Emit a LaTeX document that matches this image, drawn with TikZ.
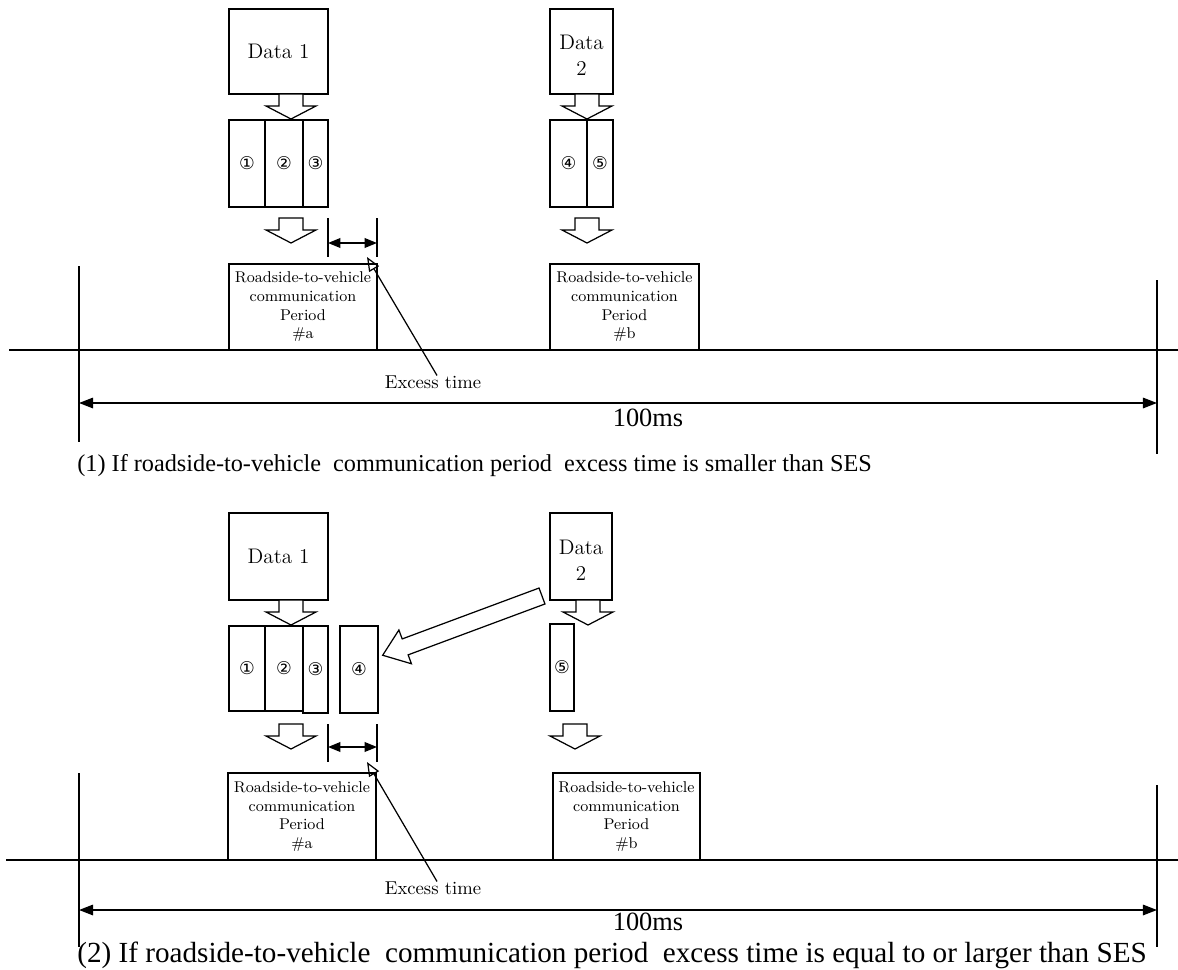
\documentclass[tikz,border=0pt]{standalone}
\usepackage{fontspec}
\newfontfamily\timesfont{Liberation Serif}
\newfontfamily\circfont{DejaVu Sans}
\usetikzlibrary{arrows.meta,calc}

\tikzset{
  % rectangle given by its corners (x1,y1) and (x2,y2) in picture units
  rect/.style n args={4}{
    rectangle, draw, inner sep=0pt, line width=0.8pt,
    minimum width={(#3-#1)*0.02cm}, minimum height={(#4-#2)*0.02cm},
    at={({(#1+#3)/2},{(#2+#4)/2})}},
  datatext/.style={align=center, font=\fontsize{12}{15}\selectfont},
  twolines/.style={text height=27.5pt, text depth=0pt},
  segtext/.style={font=\circfont\fontsize{10}{11}\selectfont},
  periodtext/.style={align=center, font=\fontsize{8.9}{10.6}\selectfont},
  excesstext/.style={font=\fontsize{10.6}{12}\selectfont, inner sep=1pt},
  mstext/.style={font=\timesfont\fontsize{15}{17}\selectfont},
  captext/.style={anchor=west, inner sep=0pt},
  thin line/.style={line width=0.8pt},
  dimarrow/.style={line width=0.8pt,
    {Triangle[length=7pt,width=5.5pt]}-{Triangle[length=7pt,width=5.5pt]}},
  spanarrow/.style={line width=0.8pt,
    {Triangle[length=8pt,width=6pt]}-{Triangle[length=8pt,width=6pt]}},
  pointer/.style={line width=0.7pt, -{Triangle[open,length=8pt,width=6.5pt]}},
  % hollow block arrow pointing down, origin at the middle of its top edge
  downblock/.pic={
    \draw[line width=0.7pt, fill=white]
      (-12,0) -- (-12,12) -- (-25,12) -- (0,25) -- (25,12) -- (12,12) -- (12,0) -- cycle;},
  % long hollow block arrow, origin at the tail, pointing along local x
  longblock/.pic={
    \draw[line width=0.7pt, fill=white]
      (0,-8.5) -- (146,-8.5) -- (146,-18) -- (170,0) -- (146,18) -- (146,8.5) -- (0,8.5) -- cycle;}
}

\begin{document}
\begin{tikzpicture}[x=0.02cm, y=-0.02cm]
\useasboundingbox (0,0) rectangle (1178,970);

% ===================== case (1) =====================
% data blocks
\node[rect={229}{9}{328}{94}, datatext] (d1a) {Data 1};
\node[rect={550}{9}{613}{94}, datatext, twolines] (d2a) {Data\\2};
\pic at (291,94) {downblock};
\pic at (587,94) {downblock};

% segments
\node[rect={229}{120}{265}{207}, segtext] (s1a) {①};
\node[rect={265}{120}{303}{207}, segtext] (s2a) {②};
\node[rect={303}{120}{328}{207}, segtext] (s3a) {③};
\node[rect={550}{120}{587}{207}, segtext] (s4a) {④};
\node[rect={587}{120}{613}{207}, segtext] (s5a) {⑤};
\pic at (291,218) {downblock};
\pic at (587,218) {downblock};

% communication periods and time line
\node[rect={229}{264}{377}{350}, periodtext] (pa1) {Roadside-to-vehicle\\communication\\Period\\\#a};
\node[rect={550}{264}{699}{350}, periodtext] (pb1) {Roadside-to-vehicle\\communication\\Period\\\#b};
\draw[thin line] (9,350) -- (1178,350);

% excess time
\coordinate (xl1t) at (328,218); \coordinate (xl1b) at (328,257);
\coordinate (xr1t) at (377,218); \coordinate (xr1b) at (377,257);
\draw[thin line] (xl1t) -- (xl1b);
\draw[thin line] (xr1t) -- (xr1b);
\coordinate (xa1) at (328,243); \coordinate (xb1) at (377,243);
\draw[dimarrow] (xa1) -- (xb1);
\node[excesstext] (ex1) at (433,382) {Excess time};
\coordinate (ex1tip) at (367,257);
\draw[pointer] ($(ex1.north)+(4,2)$) -- (ex1tip);

% 100 ms span
\coordinate (l1t) at (79,266);   \coordinate (l1b) at (79,442);
\coordinate (r1t) at (1157,280); \coordinate (r1b) at (1157,454);
\draw[thin line] (l1t) -- (l1b);
\draw[thin line] (r1t) -- (r1b);
\coordinate (sa1) at (79,403); \coordinate (sb1) at (1157,403);
\draw[spanarrow] (sa1) -- (sb1);
\node[mstext] (ms1) at (648,418) {100ms};
\node[captext, font=\timesfont\fontsize{13.8}{16}\selectfont] (cap1) at (77,466)
  {(1) If roadside-to-vehicle\ \ communication period\ \ excess time is smaller than SES};

% ===================== case (2) =====================
\node[rect={229}{513}{328}{600}, datatext] (d1b) {Data 1};
\node[rect={550}{513}{612}{600}, datatext, twolines] (d2b) {Data\\2};
\pic at (291,600) {downblock};
\pic at (588,600) {downblock};

\node[rect={229}{626}{265}{711}, segtext] (s1b) {①};
\node[rect={265}{626}{303}{711}, segtext] (s2b) {②};
\node[rect={303}{626}{328}{713}, segtext] (s3b) {③};
\node[rect={340}{626}{378}{713}, segtext] (s4b) {④};
\node[rect={550}{624}{574}{711}, segtext] (s5b) {⑤};
\pic[rotate=200.4] at (542,596) {longblock};
\pic at (291,724) {downblock};
\pic at (575,724) {downblock};

\node[rect={228}{773}{376}{860}, periodtext] (pa2) {Roadside-to-vehicle\\communication\\Period\\\#a};
\node[rect={553}{773}{700}{860}, periodtext] (pb2) {Roadside-to-vehicle\\communication\\Period\\\#b};
\draw[thin line] (6,860) -- (1178,860);

\coordinate (xl2t) at (328,724); \coordinate (xl2b) at (328,762);
\coordinate (xr2t) at (377,724); \coordinate (xr2b) at (377,762);
\draw[thin line] (xl2t) -- (xl2b);
\draw[thin line] (xr2t) -- (xr2b);
\coordinate (xa2) at (328,747); \coordinate (xb2) at (377,747);
\draw[dimarrow] (xa2) -- (xb2);
\node[excesstext] (ex2) at (433,888) {Excess time};
\coordinate (ex2tip) at (367,762);
\draw[pointer] ($(ex2.north)+(4,2)$) -- (ex2tip);

\coordinate (l2t) at (79,773);   \coordinate (l2b) at (79,947);
\coordinate (r2t) at (1157,785); \coordinate (r2b) at (1157,947);
\draw[thin line] (l2t) -- (l2b);
\draw[thin line] (r2t) -- (r2b);
\coordinate (sa2) at (79,910); \coordinate (sb2) at (1157,910);
\draw[spanarrow] (sa2) -- (sb2);
\node[mstext] (ms2) at (648,922) {100ms};
\node[captext, font=\timesfont\fontsize{16.6}{18}\selectfont] (cap2) at (77,955)
  {(2) If roadside-to-vehicle\ \ communication period\ \ excess time is equal to or larger than SES};
\end{tikzpicture}
\end{document}
